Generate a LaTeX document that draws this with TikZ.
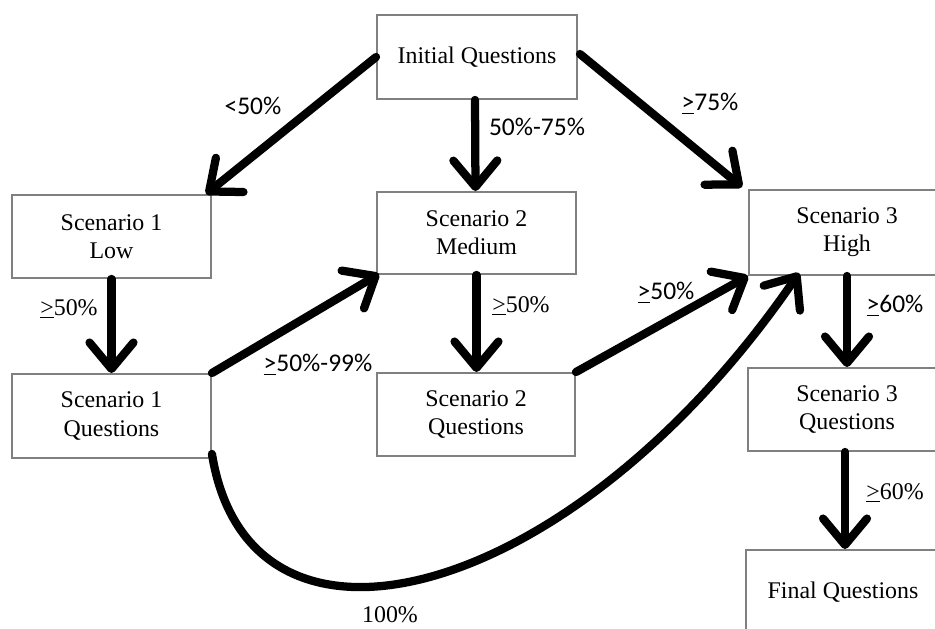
\documentclass[tikz,border=0pt]{standalone}
\usepackage{fontspec}
\setmainfont{Liberation Serif}
\newfontfamily\labfont{Carlito}
\usetikzlibrary{arrows.meta,calc}
\definecolor{boxgray}{RGB}{128,128,128}
\begin{document}
\begin{tikzpicture}[x=0.02cm,y=-0.02cm,
  box/.style={draw=boxgray, line width=1.1pt, fill=white, align=center, inner sep=0pt,
    font=\fontsize{13.6}{16}\selectfont},
  arr/.style={line width=4.7pt, line cap=round, -{Straight Barb[length=15pt,width=25pt,round]}},
  slab/.style={font=\labfont\fontsize{14.5}{17}\selectfont},
  rlab/.style={font=\fontsize{13.6}{16}\selectfont}]
\clip (0,0) rectangle (935,628);
\fill[white] (0,0) rectangle (935,628);

\node[box, minimum width=4cm, minimum height=1.68cm] (init) at (477,57) {Initial Questions};
\node[box, minimum width=3.98cm, minimum height=1.66cm] (s1l) at (111.5,236.5) {Scenario 1\\Low};
\node[box, minimum width=3.98cm, minimum height=1.64cm] (s2m) at (476.5,233) {Scenario 2\\Medium};
\node[box, minimum width=3.92cm, minimum height=1.7cm] (s3h) at (847,232.5) {Scenario 3\\High};
\node[box, minimum width=3.98cm, minimum height=1.68cm] (s1q) at (111.5,416) {Scenario 1\\Questions};
\node[box, minimum width=3.96cm, minimum height=1.66cm] (s2q) at (476,414.5) {Scenario 2\\Questions};
\node[box, minimum width=3.96cm, minimum height=1.66cm] (s3q) at (847,409.5) {Scenario 3\\Questions};
\node[box, minimum width=3.88cm, minimum height=1.68cm] (fin) at (843,592) {Final Questions};

\draw[arr] (init.west) -- ($(s1l.north east)+(-6,0)$);
\draw[arr] ($(init.south)+(-2,0)$) -- ($(s2m.north)+(-1,0)$);
\draw[arr] ($(init.east)+(2,-3)$) -- ($(s3h.north west)+(-6,-2)$);
\draw[arr] (s1l.south) -- (s1q.north);
\draw[arr] (s2m.south) -- ($(s2q.north)+(0.5,0)$);
\draw[arr] (s1q.north east) -- ($(s2m.south west)+(3,-1)$);
\draw[arr] (s2q.north east) -- (s3h.south west);
\draw[arr] ($(s1q.south east)+(0,-5)$) .. controls (250,690) and (575,600) .. ($(s3h.south west)+(51,-3)$);
\draw[arr] (s3h.south) -- (s3q.north);
\draw[arr] ($(s3q.south)+(-2,0)$) -- ($(fin.north)+(2,0)$);

\node[slab] (l1) at (253,106) {<50\%};
\node[slab] (l2) at (537,127) {50\%-75\%};
\node[slab] (l3) at (710,104) {\underline{>}75\%};
\node[rlab] (l4) at (69,309) {\underline{>}50\%};
\node[rlab] (l5) at (521,306) {\underline{>}50\%};
\node[slab] (l6) at (318,365) {\underline{>}50\%-99\%};
\node[slab] (l7) at (666,293) {\underline{>}50\%};
\node[slab] (l8) at (895,306) {\underline{>}60\%};
\node[rlab] (l9) at (895,493) {\underline{>}60\%};
\node[rlab] (l10) at (390,615) {100\%};
\end{tikzpicture}
\end{document}
